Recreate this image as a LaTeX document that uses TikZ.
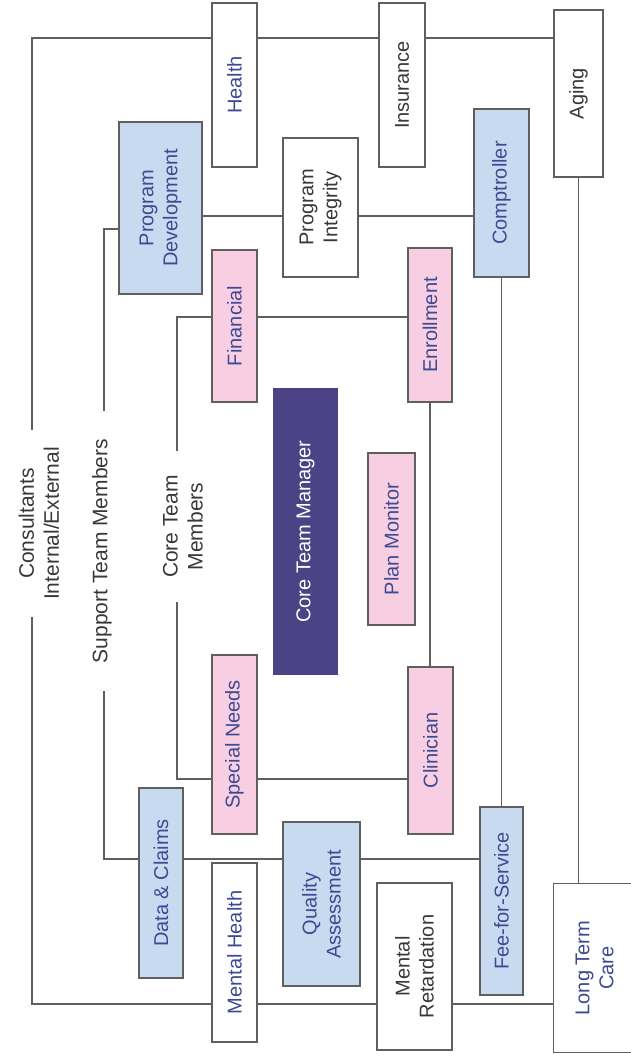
\documentclass[tikz,border=0pt]{standalone}
\usepackage{fontspec}
\setmainfont{Liberation Sans}
\definecolor{boxline}{HTML}{5F5F5F}
\definecolor{corepink}{HTML}{F8CFE2}
\definecolor{supportblue}{HTML}{C8DAF0}
\definecolor{manager}{HTML}{4B4386}
\definecolor{bluetext}{HTML}{3D4A93}
\definecolor{darktext}{HTML}{383838}

\begin{document}
\begin{tikzpicture}[
    x=1pt, y=1pt,
    every node/.style={font=\fontsize{20}{24}\selectfont},
    dims/.style 2 args={minimum width=#1pt, minimum height=#2pt},
    team/.style={rectangle, draw=boxline, line width=1.3pt, inner sep=0pt, align=center, text=bluetext},
    plainbox/.style={team, fill=white},
    corebox/.style={team, fill=corepink},
    supportbox/.style={team, fill=supportblue},
    managerbox/.style={rectangle, fill=manager, text=white, inner sep=0pt, align=center},
    grouplabel/.style={align=center, inner ysep=0pt, text=darktext, font=\fontsize{21}{25}\selectfont},
    link/.style={draw=boxline, line width=1.3pt}
]
% Chart is laid out landscape, then turned to stand on the page
\begin{scope}[rotate=90, transform shape]
\useasboundingbox (0,0) rectangle (1061,631);
\clip (0,0) rectangle (1061,631);

% Outer ring (consultants)
\node[plainbox, dims={164}{45}] (health) at (976,396.5) {Health};
\node[plainbox, dims={164}{46}, text=darktext] (insur) at (976,229) {Insurance};
\node[plainbox, dims={167}{49}, text=darktext] (aging) at (967.5,52.5) {Aging};
\node[plainbox, dims={179}{45}] (mentalh) at (108.5,396.5) {Mental Health};
\node[plainbox, dims={167}{75}, text=darktext] (mentalr) at (94.5,216.5) {Mental\\Retardation};
\node[plainbox, draw=none, dims={168}{80}] (ltc) at (93,36.5) {Long Term\\Care};
% cut off at the page edge
\draw[link] (ltc.south west) -- (ltc.north west) -- (ltc.north east) -- (ltc.south east);
\node[plainbox, dims={139}{75}, text=darktext] (progint) at (853.5,310.5) {Program\\Integrity};

% Support team
\node[supportbox, dims={172}{83}] (progdev) at (853,470.5) {Program\\Development};
\node[supportbox, dims={168}{55}] (comp) at (868,129.5) {Comptroller};
\node[supportbox, dims={190}{44}] (dataclaims) at (178,470) {Data \& Claims};
\node[supportbox, dims={164}{77}] (qa) at (157,309.5) {Quality\\Assessment};
\node[supportbox, dims={188}{43}] (fee) at (160,129.5) {Fee-for-Service};

% Core team
\node[corebox, dims={152}{45}] (fin) at (735,396.5) {Financial};
\node[corebox, dims={154}{44}] (enroll) at (736,201) {Enrollment};
\node[corebox, dims={179}{45}] (specneed) at (316.5,396.5) {Special Needs};
\node[corebox, dims={167}{45}] (clin) at (310.5,200.5) {Clinician};
\node[corebox, dims={172}{47}] (planmon) at (522,239.5) {Plan Monitor};
\node[managerbox, dims={287}{65}] (mgr) at (529.5,325.5) {Core Team Manager};

% Group labels
\node[grouplabel, inner xsep=17pt] (consult) at (537.5,592) {Consultants\\Internal/External};
\node[grouplabel, inner xsep=28pt] (support) at (510,529) {Support Team Members};
\node[grouplabel, inner xsep=24pt] (core) at (534.5,448) {Core Team\\Members};

% Consultants bracket
\coordinate (cL) at (57,599);
\coordinate (cR) at (1023,599);
\draw[link] (consult.west |- cL) -- (cL) -- (cL |- mentalh.north);
\draw[link] (cL |- mentalh.south) -- (cL |- mentalr.north);
\draw[link] (cL |- mentalr.south) -- (cL |- ltc.north);
\draw[link] (consult.east |- cR) -- (cR) -- (cR |- health.north);
\draw[link] (cR |- health.south) -- (cR |- insur.north);
\draw[link] (cR |- insur.south) -- (cR |- aging.north);

% Support bracket
\coordinate (sL) at (202,527);
\coordinate (sR) at (832,527);
\coordinate (sR2) at (845,527);
\draw[link] (support.west |- sL) -- (sL) -- (sL |- dataclaims.north);
\draw[link] (sL |- dataclaims.south) -- (sL |- qa.north);
\draw[link] (sL |- qa.south) -- (sL |- fee.north);
\draw[link] (support.east |- sR) -- (sR) -- (sR |- progdev.north);
\draw[link] (sR2 |- progdev.south) -- (sR2 |- progint.north);
\draw[link] (sR2 |- progint.south) -- (sR2 |- comp.north);

% Core bracket
\coordinate (kL) at (282,454);
\coordinate (kR) at (744,454);
\draw[link] (core.west |- kL) -- (kL) -- (kL |- specneed.north);
\draw[link] (kL |- specneed.south) -- (kL |- clin.north);
\draw[link] (core.east |- kR) -- (kR) -- (kR |- fin.north);
\draw[link] (kR |- fin.south) -- (kR |- enroll.north);

% Cross links
\draw[link] (enroll.west) -- (enroll.west -| clin.east);
\draw[link] (comp.west) -- (comp.west -| fee.east);
\draw[link] (aging.west) -- (aging.west -| ltc.east);
\end{scope}

\end{tikzpicture}
\end{document}
